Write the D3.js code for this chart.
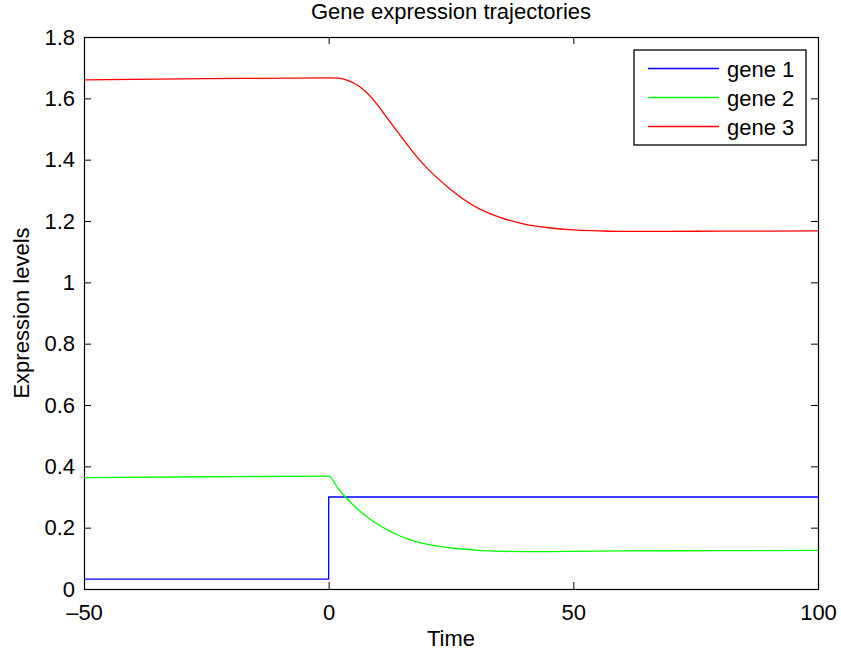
<!DOCTYPE html>
<html>
<head>
<meta charset="utf-8">
<script src="https://cdn.jsdelivr.net/npm/d3@7"></script>
<style>
  body { margin: 0; background: #fff; }
  text { font-family: "Liberation Sans", Arial, sans-serif; fill: #000; }
</style>
</head>
<body>
<svg id="chart" width="841" height="653"></svg>
<script>
// series colours, same as the figure
const blue = '#0000ff';
const green = '#00ff00';
const red = '#ff0000';

const names = ['gene 1', 'gene 2', 'gene 3'];
const colors = [blue, green, red];

// gene 1 is a step at t = 0
const gene1Time = [-50, 0, 0, 100];
const gene1Level = [0.032, 0.032, 0.30, 0.30];

// gene 2 drops after the step
const gene2Time = [-50, -25, 0, 2, 4, 6, 8, 10, 12, 14, 16, 18, 20, 23, 26, 30, 35, 40, 45, 50, 60, 80, 100];
const gene2Level = [0.363, 0.366, 0.368, 0.326, 0.290, 0.259, 0.233, 0.211, 0.193, 0.177, 0.164, 0.154, 0.146, 0.138, 0.132, 0.127, 0.123, 0.122, 0.122, 0.123, 0.124, 0.125, 0.126];

// gene 3 slides down to its new level
const gene3Time = [-50, -25, 0, 2, 4, 6, 8, 10, 12, 14, 16, 18, 20, 22, 25, 28, 31, 35, 40, 45, 50, 55, 60, 70, 80, 90, 100];
const gene3Level = [1.660, 1.664, 1.667, 1.666, 1.658, 1.642, 1.615, 1.578, 1.535, 1.492, 1.450, 1.410, 1.374, 1.343, 1.302, 1.266, 1.238, 1.212, 1.190, 1.178, 1.171, 1.168, 1.166, 1.166, 1.167, 1.167, 1.168];

const xTicks = [-50, 0, 50, 100];
const yTicks = [0, 0.2, 0.4, 0.6, 0.8, 1, 1.2, 1.4, 1.6, 1.8];

const svg = d3.select('#chart');
const margin = { top: 37, right: 23, bottom: 64, left: 84 };
const width = 841 - margin.left - margin.right;
const height = 653 - margin.top - margin.bottom;
const fontSize = 22;

const chart = svg.append('g')
  .attr('transform', `translate(${margin.left}, ${margin.top})`);

const x = d3.scaleLinear().domain([-50, 100]).range([0, width]);
const y = d3.scaleLinear().domain([0, 1.8]).range([height, 0]);

const fmtX = d => (d < 0 ? '\u2013' + Math.abs(d) : String(d));
const fmtY = d => String(+d.toFixed(1));

// axes: ticks point inward like matlab, mirrored on top/right
const styleAxis = g => {
  g.select('.domain').remove();
  g.selectAll('line').attr('stroke', '#000');
  g.selectAll('text').style('font-size', `${fontSize}px`);
};

chart.append('g')
  .attr('transform', `translate(0, ${height})`)
  .call(d3.axisBottom(x).tickValues(xTicks).tickSizeInner(-7).tickSizeOuter(0)
    .tickPadding(15).tickFormat(fmtX))
  .call(styleAxis);

chart.append('g')
  .call(d3.axisTop(x).tickValues(xTicks).tickSizeInner(-7).tickSizeOuter(0)
    .tickFormat(''))
  .call(styleAxis);

chart.append('g')
  .call(d3.axisLeft(y).tickValues(yTicks).tickSizeInner(-7).tickSizeOuter(0)
    .tickPadding(9).tickFormat(fmtY))
  .call(styleAxis);

chart.append('g')
  .attr('transform', `translate(${width}, 0)`)
  .call(d3.axisRight(y).tickValues(yTicks).tickSizeInner(-7).tickSizeOuter(0)
    .tickFormat(''))
  .call(styleAxis);

// box
chart.append('rect')
  .attr('x', 0.5)
  .attr('y', 0.5)
  .attr('width', width)
  .attr('height', height)
  .attr('fill', 'none')
  .attr('stroke', '#000')
  .attr('stroke-width', 1.2);

// lines
const series = [
  { t: gene1Time, v: gene1Level, curve: d3.curveLinear },
  { t: gene2Time, v: gene2Level, curve: d3.curveMonotoneX },
  { t: gene3Time, v: gene3Level, curve: d3.curveMonotoneX },
];

series.forEach((s, i) => {
  const pts = s.t.map((t, j) => [t, s.v[j]]);
  chart.append('path')
    .datum(pts)
    .attr('d', d3.line().curve(s.curve).x(d => x(d[0])).y(d => y(d[1])))
    .attr('fill', 'none')
    .attr('stroke', colors[i])
    .attr('stroke-width', 1.3);
});

// legend, top right corner inside the axes
const legend = chart.append('g')
  .attr('transform', `translate(${width - 184}, 13)`);

legend.append('rect')
  .attr('width', 172)
  .attr('height', 95)
  .attr('fill', '#fff')
  .attr('stroke', '#000')
  .attr('stroke-width', 1.3);

names.forEach((name, i) => {
  const row = legend.append('g').attr('transform', `translate(0, ${18.5 + i * 29})`);
  row.append('line')
    .attr('x1', 14)
    .attr('x2', 85)
    .attr('stroke', colors[i])
    .attr('stroke-width', 1.3);
  row.append('text')
    .attr('x', 93)
    .attr('y', 8)
    .style('font-size', `${fontSize}px`)
    .text(name);
});

// titles
svg.append('text')
  .attr('x', margin.left + width / 2)
  .attr('y', 19)
  .attr('text-anchor', 'middle')
  .style('font-size', `${fontSize}px`)
  .text('Gene expression trajectories');

svg.append('text')
  .attr('x', margin.left + width / 2)
  .attr('y', 646)
  .attr('text-anchor', 'middle')
  .style('font-size', `${fontSize}px`)
  .text('Time');

svg.append('text')
  .attr('transform', `translate(29, ${margin.top + height / 2}) rotate(-90)`)
  .attr('text-anchor', 'middle')
  .style('font-size', `${fontSize}px`)
  .text('Expression levels');
</script>
</body>
</html>
